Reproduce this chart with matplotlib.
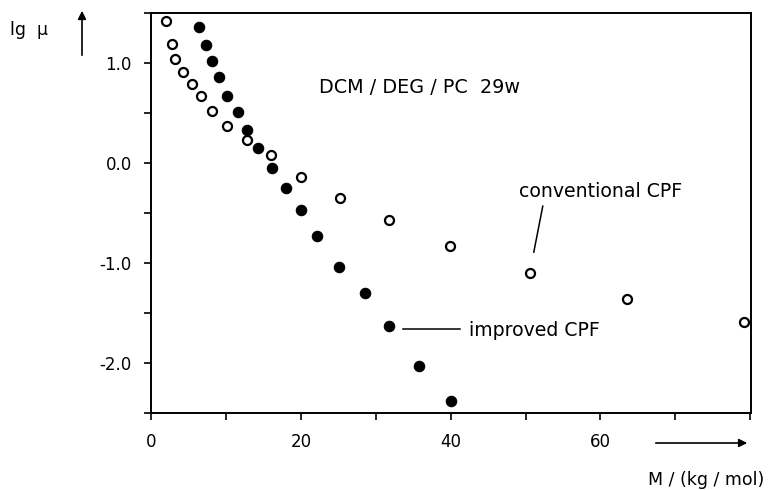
import numpy as np
import matplotlib
matplotlib.use('Agg')
import matplotlib.pyplot as plt
import matplotlib.ticker as mticker

plt.rcParams['font.family'] = ['DejaVu Sans']
plt.rcParams['axes.unicode_minus'] = False

# molar mass M in kg/mol and lg(mu) for the two CPF evaluations
m_conv = [2.0, 2.8, 3.2, 4.3, 5.4, 6.6, 8.1, 10.2, 12.8, 16.0, 20.0, 25.2, 31.8, 39.9, 50.6, 63.6, 79.2]
lg_conv = [1.42, 1.19, 1.04, 0.91, 0.79, 0.67, 0.52, 0.37, 0.23, 0.08, -0.14, -0.35, -0.57, -0.83, -1.10, -1.36, -1.59]

m_impr = [6.4, 7.3, 8.1, 9.1, 10.2, 11.6, 12.8, 14.3, 16.1, 18.0, 20.0, 22.2, 25.1, 28.5, 31.7, 35.8, 40.0]
lg_impr = [1.36, 1.18, 1.02, 0.86, 0.67, 0.51, 0.33, 0.15, -0.05, -0.25, -0.47, -0.73, -1.04, -1.30, -1.63, -2.03, -2.38]

y_ticks = [1.0, 0.0, -1.0, -2.0]
y_labels = ['1.0', '0.0', '-1.0', '-2.0']
x_ticks = [0, 20, 40, 60]
x_labels = ['0', '20', '40', '60']

fig = plt.figure(figsize=(7.71, 4.90), dpi=100)
ax = fig.add_axes([0.196, 0.157, 0.778, 0.816])

ax.plot(m_impr, lg_impr, 'o', color='k', ms=7.5, mec='k', mew=0.8, zorder=3)
ax.plot(m_conv, lg_conv, 'o', color='k', ms=6.5, mfc='white', mec='k', mew=1.6, zorder=4)

ax.set_xlim(0, 80.1)
ax.set_ylim(-2.5, 1.5)

ax.set_yticks(y_ticks)
ax.set_yticklabels(y_labels)
ax.set_xticks(x_ticks)
ax.set_xticklabels(x_labels)
ax.yaxis.set_minor_locator(mticker.MultipleLocator(0.5))
ax.xaxis.set_minor_locator(mticker.MultipleLocator(10))
ax.tick_params(which='both', direction='out', length=5, width=1.2, labelsize=12)
ax.tick_params(axis='x', pad=9)
ax.tick_params(axis='y', pad=9)

for s in ax.spines.values():
    s.set_linewidth(1.4)

ax.text(22.4, 0.76, 'DCM / DEG / PC  29w', fontsize=13.8, va='center', ha='left')

ax.text(49.1, -0.285, 'conventional CPF', fontsize=13.6, va='center', ha='left')
ax.plot([52.3, 51.1], [-0.43, -0.89], color='k', lw=1.1)

ax.text(42.4, -1.67, 'improved CPF', fontsize=13.6, va='center', ha='left')
ax.plot([33.7, 41.3], [-1.66, -1.66], color='k', lw=1.1)

# axis names with arrows, placed outside the frame
fig.text(10 / 771, 1 - 30 / 490, 'lg  μ', fontsize=12.5, va='center', ha='left')
fig.add_artist(matplotlib.patches.FancyArrowPatch(
    (82 / 771, 1 - 58 / 490), (82 / 771, 1 - 8 / 490), transform=fig.transFigure,
    arrowstyle='-|>', mutation_scale=12, color='k', lw=1.2))

fig.text(764 / 771, 1 - 480 / 490, 'M / (kg / mol)', fontsize=12.5, va='center', ha='right')
fig.add_artist(matplotlib.patches.FancyArrowPatch(
    (653 / 771, 1 - 443 / 490), (750 / 771, 1 - 443 / 490), transform=fig.transFigure,
    arrowstyle='-|>', mutation_scale=12, color='k', lw=1.2))

fig.savefig('out.png', dpi=100)
